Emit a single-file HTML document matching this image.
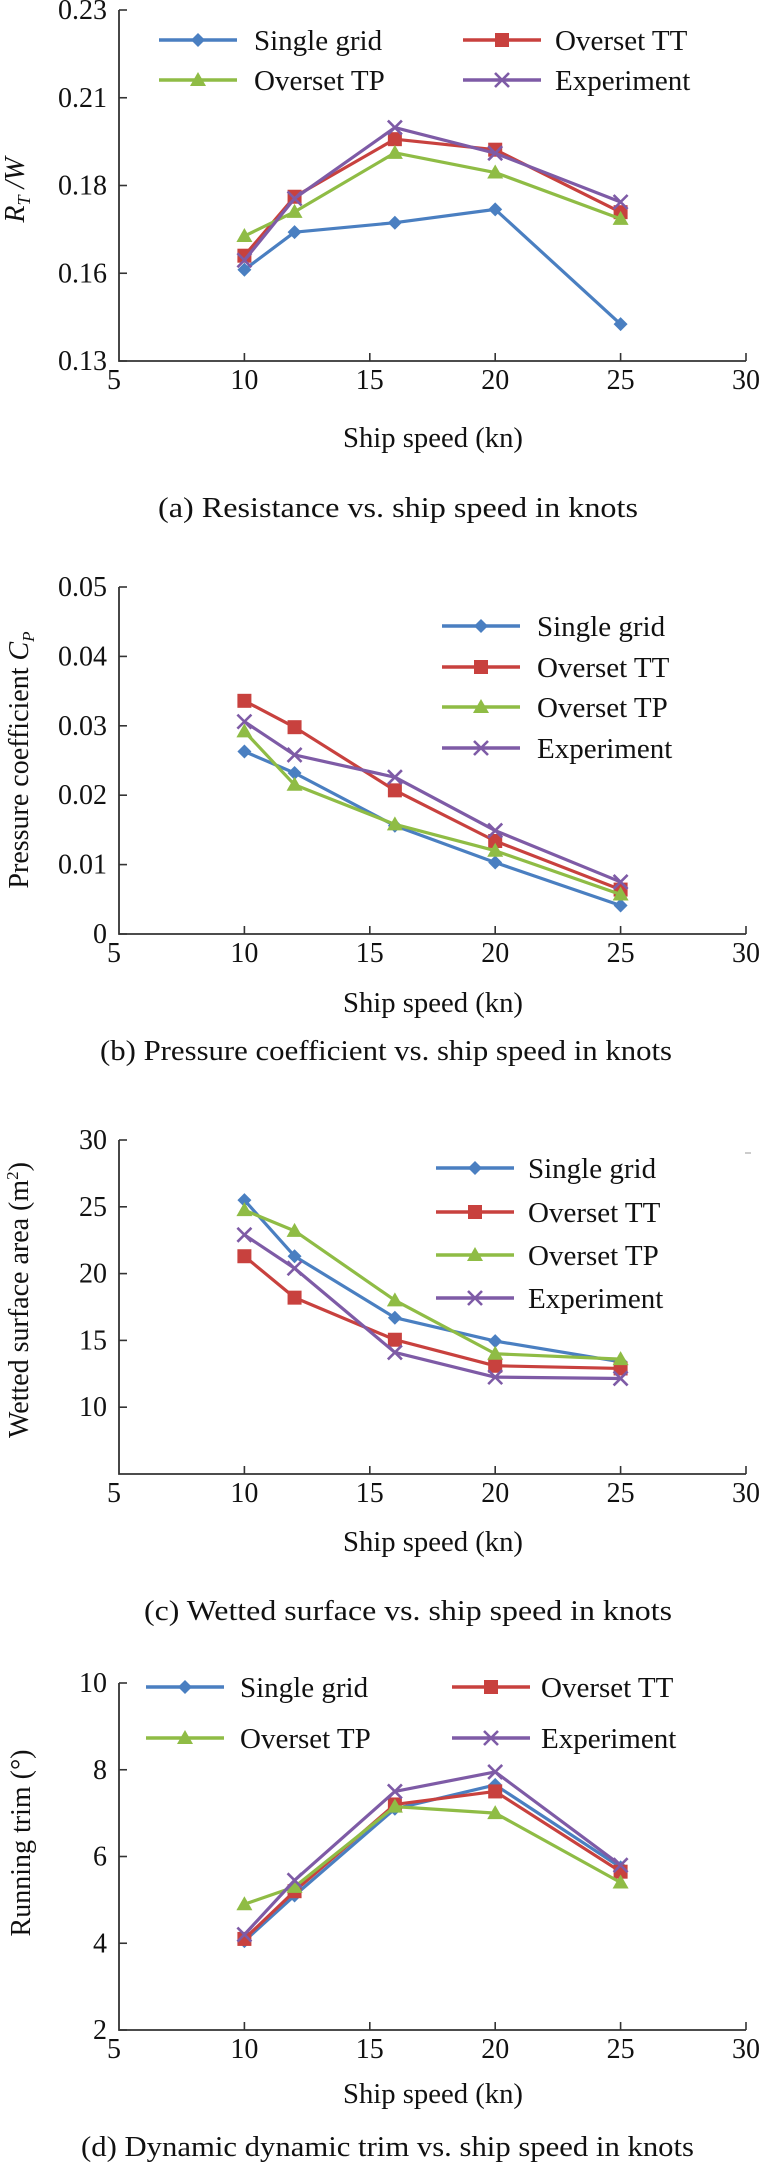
<!DOCTYPE html>
<html><head><meta charset="utf-8"><title>Ship speed charts</title>
<style>
html,body{margin:0;padding:0;background:#fff;}
svg{display:block;}
svg, svg text{font-family:"Liberation Serif","Times New Roman",serif;fill:#111;}
</style></head>
<body>
<svg id="fig" width="769" height="2164" viewBox="0 0 769 2164" font-family="Liberation Serif, serif" xmlns="http://www.w3.org/2000/svg"></svg>
<script>
// ---- shared data ----
const speeds = [10, 12, 16, 20, 25];
const seriesNames = ["Single grid", "Overset TT", "Overset TP", "Experiment"];
const xTicks = [5, 10, 15, 20, 25, 30];
const xTickLabels = ["5", "10", "15", "20", "25", "30"];

// (a) resistance
const aSingle = [0.156, 0.1667, 0.1694, 0.1732, 0.1405];
const aTT = [0.160, 0.1768, 0.1932, 0.1902, 0.1724];
const aTP = [0.1656, 0.1725, 0.1893, 0.1837, 0.1705];
const aExp = [0.1587, 0.1763, 0.1965, 0.1892, 0.1753];
const aYTicks = [0.13, 0.155, 0.18, 0.205, 0.23];
const aYTickLabels = ["0.13", "0.16", "0.18", "0.21", "0.23"];

// (b) pressure coefficient
const bSingle = [0.0263, 0.0232, 0.0156, 0.0103, 0.0041];
const bTT = [0.0336, 0.0298, 0.0207, 0.0134, 0.0064];
const bTP = [0.0292, 0.0215, 0.0158, 0.0120, 0.0057];
const bExp = [0.0306, 0.0258, 0.0226, 0.0149, 0.0075];
const bYTicks = [0, 0.01, 0.02, 0.03, 0.04, 0.05];
const bYTickLabels = ["0", "0.01", "0.02", "0.03", "0.04", "0.05"];

// (c) wetted surface
const cSingle = [25.5, 21.3, 16.7, 14.95, 13.4];
const cTT = [21.3, 18.2, 15.05, 13.1, 12.9];
const cTP = [24.75, 23.2, 18.0, 14.0, 13.6];
const cExp = [22.9, 20.4, 14.1, 12.25, 12.15];
const cYTicks = [10, 15, 20, 25, 30];
const cYTickLabels = ["10", "15", "20", "25", "30"];

// (d) running trim
const dSingle = [4.05, 5.1, 7.1, 7.65, 5.75];
const dTT = [4.1, 5.2, 7.2, 7.5, 5.65];
const dTP = [4.9, 5.3, 7.15, 7.0, 5.4];
const dExp = [4.2, 5.45, 7.5, 7.95, 5.8];
const dYTicks = [2, 4, 6, 8, 10];
const dYTickLabels = ["2", "4", "6", "8", "10"];

const NS = "http://www.w3.org/2000/svg";
const svg = document.getElementById("fig");
const COLORS = ["#4a7fc1", "#c8413e", "#8fbc45", "#7e5ba6"];
const MARKERS = ["diamond", "square", "triangle", "cross"];
const FONT = '"Liberation Serif", serif';

function mk(tag, attrs, parent) {
  const e = document.createElementNS(NS, tag);
  for (const k in attrs) e.setAttribute(k, attrs[k]);
  if (tag === "text") e.setAttribute("font-family", FONT);
  (parent || svg).appendChild(e);
  return e;
}
function xScale(v) { return 119 + (v - 5) / 25 * (746 - 119); }
function makeY(vmin, vmax, pmin, pmax) { return v => pmin - (v - vmin) / (vmax - vmin) * (pmin - pmax); }

function marker(g, type, x, y, color, s) {
  let e;
  if (type === "diamond") {
    e = mk("polygon", {points: `${x},${y-7*s} ${x+7*s},${y} ${x},${y+7*s} ${x-7*s},${y}`, fill: color}, g);
  } else if (type === "square") {
    e = mk("rect", {x: x-7*s, y: y-7*s, width: 14*s, height: 14*s, fill: color}, g);
  } else if (type === "triangle") {
    e = mk("polygon", {points: `${x},${y-8*s} ${x+8*s},${y+6*s} ${x-8*s},${y+6*s}`, fill: color}, g);
  } else {
    e = mk("path", {d: `M${x-7*s},${y-7*s}L${x+7*s},${y+7*s}M${x+7*s},${y-7*s}L${x-7*s},${y+7*s}`, stroke: color, "stroke-width": 2.6, fill: "none"}, g);
  }
  return e;
}

function drawChart(cfg) {
  const g = mk("g", {});
  
  
  const y = makeY(cfg.ymin, cfg.ymax, cfg.pBot, cfg.pTop);
  const axes = mk("path", {d: `M119,${cfg.pTop}V${cfg.pBot}H746`, stroke: "#333", "stroke-width": 1.8, fill: "none"}, g);
  
  
  xTicks.forEach((t, i) => {
    const px = xScale(t);
    if (i > 0) mk("line", {x1: px, x2: px, y1: cfg.pBot, y2: cfg.pBot - 8, stroke: "#333", "stroke-width": 1.6}, g);
    const tl = mk("text", {x: px - (i === 0 ? 5 : 0), y: cfg.pBot + 28, "font-size": 28, "text-anchor": "middle"}, g);
    tl.textContent = xTickLabels[i];
    
    
  });
  cfg.yTicks.forEach((t, i) => {
    const py = y(t);
    mk("line", {x1: 119, x2: 127, y1: py, y2: py, stroke: "#333", "stroke-width": 1.6}, g);
    const tl = mk("text", {x: 107, y: py + 9, "font-size": 28, "text-anchor": "end"}, g);
    tl.textContent = cfg.yTickLabels[i];
    
    
  });
  cfg.series.forEach((vals, si) => {
    const sg = mk("g", {}, g);
    
    
    const pts = speeds.map((s, k) => `${xScale(s)},${y(vals[k])}`).join(" ");
    mk("polyline", {points: pts, fill: "none", stroke: COLORS[si], "stroke-width": 3.2, "stroke-linejoin": "round"}, sg);
    speeds.forEach((s, k) => {
      const m = marker(sg, MARKERS[si], xScale(s), y(vals[k]), COLORS[si], 1);
      
      
    });
  });
  const lg = mk("g", {}, g);
  
  
  cfg.legend.forEach((L, si) => {
    const eg = mk("g", {}, lg);
    
    
    mk("line", {x1: L[0], x2: L[0] + 78, y1: L[2], y2: L[2], stroke: COLORS[si], "stroke-width": 3.4}, eg);
    marker(eg, MARKERS[si], L[0] + 39, L[2], COLORS[si], 1);
    const t = mk("text", {x: L[1], y: L[2] + 10, "font-size": 29}, eg);
    t.textContent = seriesNames[si];
  });
  const xt = mk("text", {x: 343, y: cfg.xTitleY, "font-size": 28, textLength: 180, lengthAdjust: "spacingAndGlyphs"}, g);
  xt.textContent = "Ship speed (kn)";
  
  
  const yt = mk("text", {x: 0, y: 0, "font-size": 28, "text-anchor": "middle", transform: `translate(${cfg.yTitleX},${cfg.yTitleY}) rotate(-90)`}, g);
  yt.innerHTML = cfg.yTitle;
  
  
  const cp = mk("text", {x: cfg.capX, y: cfg.capY, "font-size": 29}, g);
  if (cfg.capLen) { cp.setAttribute("textLength", cfg.capLen); cp.setAttribute("lengthAdjust", "spacingAndGlyphs"); }
  cp.textContent = cfg.caption;
  
  
}

drawChart({name: "chart-a-resistance", ymin: 0.13, ymax: 0.23, pTop: 10, pBot: 361,
  yTicks: aYTicks, yTickLabels: aYTickLabels, series: [aSingle, aTT, aTP, aExp],
  legend: [[159, 254, 40], [463, 555, 40], [159, 254, 80], [463, 555, 80]],
  xTitleY: 447, yTitleX: 24, yTitleY: 190,
  yTitle: '<tspan font-style="italic">R</tspan><tspan font-style="italic" font-size="18" dy="6">T</tspan><tspan dy="-6" font-style="italic"> /W</tspan>',
  capX: 158, capY: 517, capLen: 480, caption: "(a) Resistance vs. ship speed in knots"});

drawChart({name: "chart-b-pressure", ymin: 0, ymax: 0.05, pTop: 587, pBot: 934,
  yTicks: bYTicks, yTickLabels: bYTickLabels, series: [bSingle, bTT, bTP, bExp],
  legend: [[442, 537, 626], [442, 537, 667], [442, 537, 707], [442, 537, 748]],
  xTitleY: 1012, yTitleX: 28, yTitleY: 760,
  yTitle: 'Pressure coefficient <tspan font-style="italic">C</tspan><tspan font-style="italic" font-size="17" dy="6">P</tspan>',
  capX: 100, capY: 1060, capLen: 572, caption: "(b) Pressure coefficient vs. ship speed in knots"});

drawChart({name: "chart-c-wetted-surface", ymin: 5, ymax: 30, pTop: 1140, pBot: 1474,
  yTicks: cYTicks, yTickLabels: cYTickLabels, series: [cSingle, cTT, cTP, cExp],
  legend: [[436, 528, 1168], [436, 528, 1212], [436, 528, 1255], [436, 528, 1298]],
  xTitleY: 1551, yTitleX: 28, yTitleY: 1300,
  yTitle: 'Wetted surface area (m<tspan font-size="17" dy="-10">2</tspan><tspan dy="10">)</tspan>',
  capX: 144, capY: 1620, capLen: 528, caption: "(c) Wetted surface vs. ship speed in knots"});

drawChart({name: "chart-d-running-trim", ymin: 2, ymax: 10, pTop: 1683, pBot: 2030,
  yTicks: dYTicks, yTickLabels: dYTickLabels, series: [dSingle, dTT, dTP, dExp],
  legend: [[146, 240, 1687], [452, 541, 1687], [146, 240, 1738], [452, 541, 1738]],
  xTitleY: 2103, yTitleX: 30, yTitleY: 1843,
  yTitle: 'Running trim (°)',
  capX: 81, capY: 2156, capLen: 613, caption: "(d) Dynamic dynamic trim vs. ship speed in knots"});

const dash = mk("line", {x1: 745, x2: 751, y1: 1153, y2: 1153, stroke: "#999", "stroke-width": 1});


</script>
</body></html>
